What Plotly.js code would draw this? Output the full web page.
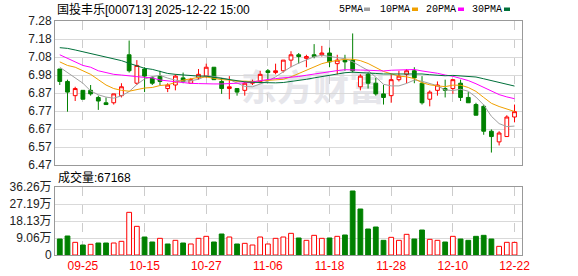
<!DOCTYPE html>
<html>
<head>
<meta charset="utf-8">
<script src="https://cdn.plot.ly/plotly-3.0.1.min.js"></script>
<style>html,body{margin:0;padding:0;background:#fff;}#chart{width:578px;height:276px;}</style>
</head>
<body>
<div id="chart"></div>
<script>
// ---------- DATA ----------
const dates = ['09-22','09-23','09-24','09-25','09-26','09-29','09-30','10-09','10-10','10-13',
'10-14','10-15','10-16','10-17','10-20','10-21','10-22','10-23','10-24','10-27',
'10-28','10-29','10-30','10-31','11-03','11-04','11-05','11-06','11-07','11-10',
'11-11','11-12','11-13','11-14','11-17','11-18','11-19','11-20','11-21','11-24',
'11-25','11-26','11-27','11-28','12-01','12-02','12-03','12-04','12-05','12-08',
'12-09','12-10','12-11','12-12','12-15','12-16','12-17','12-18','12-19','12-22'];

const open  = [7.01,6.94,6.86,6.89,6.89,6.85,6.82,6.82,6.86,7.09, 6.93,7.01,6.96,6.97,6.90,6.92,6.96,6.93,6.96,6.97,
               7.02,6.94,6.90,6.90,6.89,6.93,6.94,7.00,6.99,7.00, 7.06,7.09,7.07,7.09,7.09,7.10,7.04,7.06,7.06,6.91,
               6.98,6.93,6.87,6.86,6.95,6.98,7.00,6.93,6.84,6.89, 6.90,6.90,6.93,6.85,6.81,6.80,6.66,6.60,6.63,6.74];
const high  = [7.01,6.95,6.91,6.89,6.92,6.86,6.85,6.87,6.93,7.17, 7.06,7.02,6.97,7.00,6.93,6.98,6.99,6.96,7.01,7.04,
               7.02,6.96,6.97,6.90,6.94,6.95,7.00,7.01,7.04,7.06, 7.11,7.10,7.09,7.15,7.14,7.13,7.09,7.09,7.21,6.98,
               6.99,6.96,6.92,6.98,7.00,7.01,7.02,6.97,6.89,6.94, 6.95,6.95,6.95,6.88,6.82,6.81,6.67,6.66,6.75,6.81];
const low   = [6.92,6.77,6.83,6.84,6.86,6.78,6.81,6.81,6.85,6.99, 6.92,6.88,6.92,6.92,6.88,6.89,6.93,6.93,6.95,6.96,
               6.95,6.87,6.84,6.86,6.86,6.92,6.93,6.94,6.98,6.99, 7.02,7.04,7.02,7.07,7.08,7.02,6.98,7.00,6.99,6.89,
               6.90,6.86,6.81,6.82,6.94,6.93,6.93,6.81,6.80,6.86, 6.85,6.87,6.83,6.82,6.75,6.64,6.54,6.58,6.63,6.71];
const close = [6.94,6.88,6.90,6.84,6.87,6.83,6.81,6.87,6.91,7.00, 7.03,6.97,6.93,6.94,6.92,6.97,6.94,6.95,6.98,7.02,
               6.95,6.90,6.91,6.88,6.93,6.94,6.98,6.99,7.00,7.06, 7.09,7.08,7.08,7.08,7.10,7.05,7.06,7.05,7.00,6.97,
               6.93,6.87,6.85,6.95,6.97,7.00,6.96,6.82,6.88,6.92, 6.89,6.95,6.85,6.82,6.75,6.66,6.63,6.65,6.74,6.77];
const prevClose = 7.00;

const ma5  = [7.02,6.99,6.96,6.93,6.887,6.865,6.852,6.846,6.859,6.883, 6.923,6.954,6.967,6.974,6.959,6.947,6.941,6.944,6.952,6.971,
              6.968,6.960,6.951,6.931,6.912,6.910,6.926,6.942,6.966,6.992, 7.022,7.043,7.062,7.079,7.087,7.079,7.074,7.068,7.051,7.026,
              7.002,6.964,6.924,6.915,6.915,6.929,6.948,6.941,6.927,6.916, 6.892,6.889,6.896,6.885,6.852,6.808,6.744,6.703,6.686,6.689];
const ma10 = [7.05,7.03,7.02,7.00,6.98,6.95,6.92,6.90,6.89,6.885, 6.894,6.903,6.906,6.917,6.921,6.935,6.947,6.955,6.963,6.965,
              6.958,6.950,6.948,6.941,6.942,6.939,6.943,6.947,6.948,6.952, 6.966,6.985,7.002,7.022,7.040,7.051,7.059,7.065,7.065,7.057,
              7.041,7.019,6.996,6.983,6.970,6.966,6.956,6.933,6.921,6.915, 6.911,6.919,6.919,6.906,6.884,6.850,6.817,6.799,6.786,6.771];
const ma20 = [7.09,7.07,7.05,7.03,7.02,7.00,6.99,6.98,6.976,6.97, 6.967,6.963,6.96,6.948,6.943,6.939,6.933,6.929,6.928,6.925,
              6.926,6.926,6.927,6.929,6.932,6.937,6.945,6.951,6.956,6.959, 6.962,6.968,6.975,6.982,6.991,6.995,7.001,7.006,7.007,7.004,
              7.003,7.002,6.999,7.003,7.005,7.008,7.007,6.999,6.993,6.986, 6.976,6.969,6.957,6.945,6.927,6.908,6.886,6.866,6.853,6.843];
const ma30 = [7.13,7.126,7.117,7.107,7.098,7.089,7.079,7.068,7.057,7.042, 7.027,7.014,7.008,6.995,6.985,6.98,6.976,6.97,6.97,6.97,
              6.963,6.957,6.952,6.944,6.938,6.935,6.933,6.932,6.932,6.934, 6.939,6.946,6.952,6.960,6.968,6.975,6.983,6.989,6.992,6.991,
              6.988,6.985,6.982,6.982,6.984,6.985,6.986,6.982,6.978,6.975, 6.972,6.974,6.972,6.970,6.965,6.955,6.944,6.932,6.924,6.914];

const volume = [85300,101300,67500,53300,56900,64000,64000,64000,72900,227500,
                152900,96000,69300,88900,58700,78200,64000,58700,88900,99500,
                69300,112000,96000,58700,62200,53300,96000,58700,88900,96000,
                115500,90700,78200,104900,88900,90700,99500,106700,341300,245300,
                138600,149300,78200,94200,78200,110200,85300,133300,83500,78200,
                69300,99500,85300,78200,99500,104900,85300,46200,67500,67168];

const tickDates = ['09-25','10-15','10-27','11-06','11-18','11-28','12-10','12-22'];
const priceTickText = ['6.47','6.57','6.67','6.77','6.87','6.98','7.08','7.18','7.28'];
const volTickText = ['0','9.06万','18.13万','27.19万','36.26万'];
const maNames = ['5PMA','10PMA','20PMA','30PMA'];
const titleText = '国投丰乐[000713] 2025-12-22 15:00';
const volLabel = '成交量:' + volume[volume.length-1];

// ---------- STYLE ----------
const RED = '#ff0000', GREEN = '#008000';
const maColors = ['#a0a0a0','#f0a000','#ff00ff','#00703a'];
const FONT = 'Liberation Sans, Arial, "Noto Sans CJK SC", sans-serif';
const priceMin = 6.47, priceMax = 7.28, volMax = 362600;
const priceTicks = priceTickText.map((_, i) => priceMin + i * (priceMax - priceMin) / 8);
const volTicks = volTickText.map((_, i) => i * volMax / 4);

// pixel helpers for layout (plot area: x 55..522, y 21..255)
const L = 55, R = 522, T = 21, B = 255;
const px = x => (x - L) / (R - L);
const py = y => (B - y) / (B - T);

const volUp = close.map((c, i) => c >= (i ? close[i-1] : prevClose));

const traces = [];
traces.push({
  type: 'candlestick', x: dates, open: open, high: high, low: low, close: close,
  xaxis: 'x', yaxis: 'y',
  increasing: {line: {color: RED, width: 1}, fillcolor: '#ffffff'},
  decreasing: {line: {color: GREEN, width: 1}, fillcolor: GREEN},
  whiskerwidth: 0, hoverinfo: 'skip', showlegend: false
});
[ma5, ma10, ma20, ma30].forEach((m, k) => {
  traces.push({type: 'scatter', mode: 'lines', x: dates, y: m, xaxis: 'x', yaxis: 'y',
    line: {color: maColors[k], width: 1}, hoverinfo: 'skip', showlegend: false});
});
traces.push({
  type: 'bar', x: dates, y: volume, xaxis: 'x2', yaxis: 'y2', width: 0.62,
  marker: {color: volUp.map(u => u ? '#ffffff' : GREEN),
           line: {color: volUp.map(u => u ? RED : GREEN), width: 1}},
  hoverinfo: 'skip', showlegend: false
});

const xRange = [-0.62, 59.97];
const xBase = {
  type: 'category', range: xRange, tickvals: tickDates, ticktext: tickDates,
  showgrid: true, gridcolor: '#cccccc', griddash: 'dash', gridwidth: 1,
  showline: true, linecolor: '#999999', linewidth: 1, mirror: true,
  ticks: '', zeroline: false, fixedrange: true
};

const annotations = [
  {text: titleText, x: px(55), y: py(9.5), xref: 'paper', yref: 'paper', xanchor: 'left', yanchor: 'middle',
   showarrow: false, font: {family: FONT, size: 12, color: '#000'}},
  {text: volLabel, x: px(56), y: py(177), xref: 'paper', yref: 'paper', xanchor: 'left', yanchor: 'middle',
   showarrow: false, font: {family: FONT, size: 12, color: '#000'}}
];
const legendX = [336.5, 378, 424, 469.6];
const squareX = [364, 412, 458, 504];
const shapes = [];
maNames.forEach((n, k) => {
  annotations.push({text: n, x: px(legendX[k]), y: py(9.5), xref: 'paper', yref: 'paper',
    xanchor: 'left', yanchor: 'middle', showarrow: false,
    font: {family: '"Liberation Mono", monospace', size: 10, color: '#000'}});
  shapes.push({type: 'rect', xref: 'paper', yref: 'paper', x0: px(squareX[k]), x1: px(squareX[k] + 6),
    y0: py(11), y1: py(7.5), line: {width: 0}, fillcolor: maColors[k]});
});
// watermark
shapes.push({type: 'rect', xref: 'paper', yref: 'paper', x0: px(208), x1: px(418), y0: py(114), y1: py(68),
  line: {width: 0}, fillcolor: 'rgba(0,0,0,0)', layer: 'between',
  label: {text: '东方财富', textposition: 'middle center',
          font: {family: '"Noto Sans CJK SC"', size: 36, color: '#e6e6eb', weight: 'bold'}}});

const layout = {
  width: 578, height: 276,
  margin: {l: L, r: 578 - R, t: T, b: 276 - B, pad: 0},
  paper_bgcolor: '#ffffff', plot_bgcolor: '#ffffff',
  showlegend: false,
  font: {family: FONT, size: 12, color: '#000'},
  xaxis: Object.assign({}, xBase, {anchor: 'y', showticklabels: false, rangeslider: {visible: false}}),
  xaxis2: Object.assign({}, xBase, {anchor: 'y2', showticklabels: true,
           tickfont: {family: FONT, size: 12, color: RED}}),
  yaxis: {domain: [py(165), 1], range: [priceMin, priceMax], tickvals: priceTicks, ticktext: priceTickText,
          showgrid: true, gridcolor: '#d9d9d9', showline: true, linecolor: '#999999', mirror: true,
          ticks: '', zeroline: false, fixedrange: true, tickfont: {family: FONT, size: 12, color: '#222'}},
  yaxis2: {domain: [0, py(187)], range: [0, volMax], tickvals: volTicks, ticktext: volTickText,
          showgrid: true, gridcolor: '#d9d9d9', showline: true, linecolor: '#999999', mirror: true,
          ticks: '', zeroline: false, fixedrange: true, tickfont: {family: FONT, size: 12, color: '#222'}},
  bargap: 0.38,
  annotations: annotations,
  shapes: shapes
};

Plotly.newPlot('chart', traces, layout, {staticPlot: true, displayModeBar: false});
</script>
</body>
</html>
